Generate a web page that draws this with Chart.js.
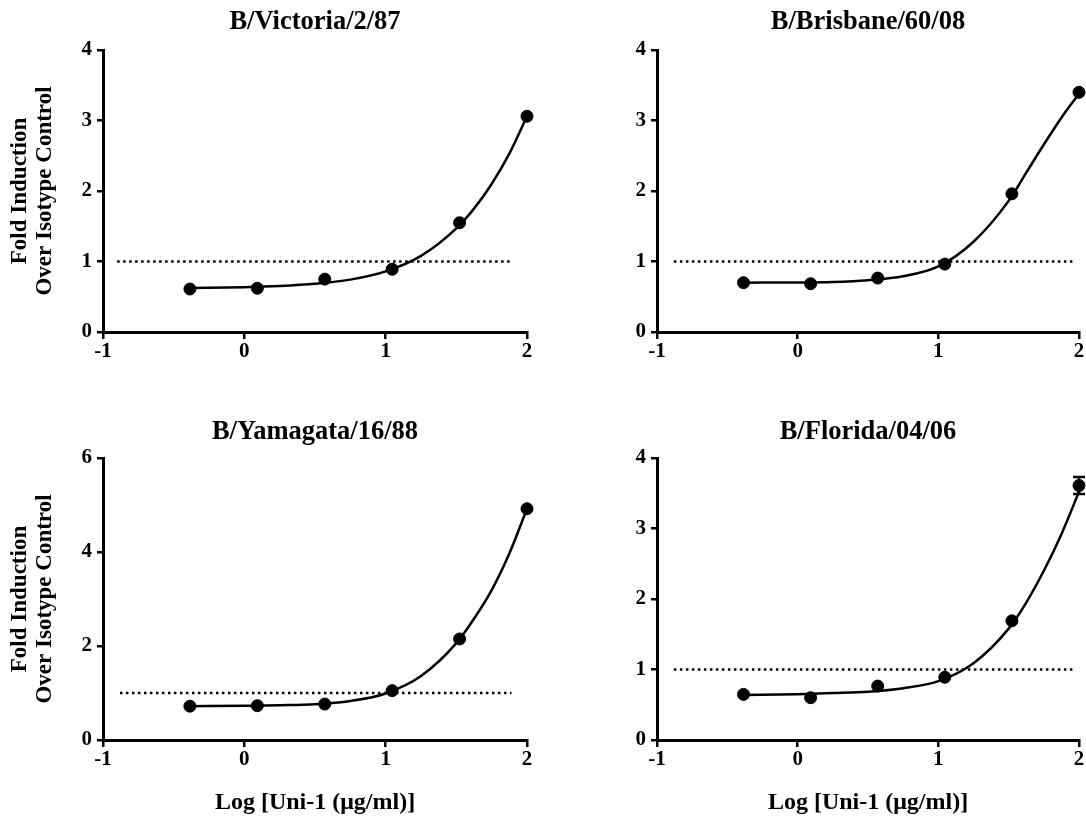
<!DOCTYPE html>
<html>
<head>
<meta charset="utf-8">
<script src="https://cdn.jsdelivr.net/npm/chart.js@4.4.1/dist/chart.umd.min.js"></script>
<style>
  body { margin: 0; background: #fff; }
  #wrap { position: relative; width: 1086px; height: 816px; overflow: hidden; background: #fff; }
  #wrap canvas { position: absolute; }
</style>
</head>
<body>
<div id="wrap">
  <canvas id="victoria" width="543" height="408" style="left:0;top:0"></canvas>
  <canvas id="brisbane" width="543" height="408" style="left:543px;top:0"></canvas>
  <canvas id="yamagata" width="543" height="408" style="left:0;top:408px"></canvas>
  <canvas id="florida" width="543" height="408" style="left:543px;top:408px"></canvas>
</div>
<script>
// log dose of Uni-1 (ug/ml), same for every strain
const doseLog = [-0.385, 0.092, 0.569, 1.046, 1.523, 2.0];
const fitLog = [-0.385, 0, 0.25, 0.5, 0.75, 1.0, 1.25, 1.5, 1.625, 1.75, 1.875, 2.0];

const victoriaMean = [0.61, 0.62, 0.75, 0.89, 1.55, 3.06];
const victoriaFit = [0.625, 0.636, 0.652, 0.683, 0.743, 0.86, 1.08, 1.47, 1.75, 2.10, 2.53, 3.06];

const brisbaneMean = [0.70, 0.685, 0.765, 0.963, 1.96, 3.40];
const brisbaneFit = [0.70, 0.703, 0.71, 0.735, 0.79, 0.93, 1.28, 1.86, 2.26, 2.66, 3.04, 3.38];

const yamagataMean = [0.72, 0.73, 0.765, 1.05, 2.15, 4.92];
const yamagataFit = [0.72, 0.73, 0.74, 0.76, 0.83, 0.99, 1.36, 2.06, 2.58, 3.19, 3.97, 4.92];

const floridaMean = [0.647, 0.60, 0.765, 0.89, 1.69, 3.61];
const floridaFit = [0.638, 0.65, 0.665, 0.685, 0.735, 0.835, 1.09, 1.58, 1.95, 2.40, 2.92, 3.52];
const floridaErr = [0, 0, 0, 0, 0, 0.12];

// dotted baseline at fold induction = 1 (start / end on the x axis)
const victoriaRef = [-0.9, 1.89];
const brisbaneRef = [-0.88, 1.96];
const yamagataRef = [-0.88, 1.89];
const floridaRef = [-0.88, 1.96];

const xTicks = [-1, 0, 1, 2];

const FONT = '"Liberation Serif", "Times New Roman", serif';

const panelTitle = {
    id: 'panelTitle',
    afterDraw(chart, args, opts) {
        const { ctx, chartArea } = chart;
        ctx.save();
        ctx.font = 'bold 26.5px ' + FONT;
        ctx.fillStyle = '#000';
        ctx.textAlign = 'center';
        ctx.textBaseline = 'middle';
        ctx.fillText(opts.text, (chartArea.left + chartArea.right) / 2, opts.y);
        ctx.restore();
    }
};

const errorBars = {
    id: 'errorBars',
    afterDatasetsDraw(chart, args, opts) {
        if (!opts.err) return;
        const { ctx, scales } = chart;
        ctx.save();
        ctx.strokeStyle = '#000';
        ctx.lineWidth = 2.5;
        opts.err.forEach((e, i) => {
            if (!e) return;
            const px = scales.x.getPixelForValue(opts.x[i]);
            const top = scales.y.getPixelForValue(opts.y[i] + e);
            const bot = scales.y.getPixelForValue(opts.y[i] - e);
            ctx.beginPath();
            ctx.moveTo(px, top); ctx.lineTo(px, bot);
            ctx.moveTo(px - 6, top); ctx.lineTo(px + 6, top);
            ctx.moveTo(px - 6, bot); ctx.lineTo(px + 6, bot);
            ctx.stroke();
        });
        ctx.restore();
    }
};

function toPoints(xs, ys) {
    return xs.map((x, i) => ({ x: x, y: ys[i] }));
}

function makePanel(id, cfg) {
    const ctx = document.getElementById(id).getContext('2d');
    return new Chart(ctx, {
        type: 'scatter',
        data: {
            datasets: [{
                data: toPoints(doseLog, cfg.mean),
                backgroundColor: '#000',
                borderColor: '#000',
                pointRadius: 6,
                pointHoverRadius: 6,
                clip: false
            }, {
                data: toPoints(fitLog, cfg.fit),
                showLine: true,
                borderColor: '#000',
                borderWidth: 2.5,
                pointRadius: 0,
                cubicInterpolationMode: 'monotone',
                clip: false
            }, {
                data: [{ x: cfg.ref[0], y: 1 }, { x: cfg.ref[1], y: 1 }],
                showLine: true,
                borderColor: '#000',
                borderWidth: 2.5,
                borderDash: [2.5, 3.5],
                pointRadius: 0,
                clip: false
            }]
        },
        options: {
            responsive: false,
            animation: false,
            events: [],
            layout: {
                padding: { top: 50, left: 0, right: cfg.padRight, bottom: 0 }
            },
            scales: {
                x: {
                    type: 'linear',
                    min: -1,
                    max: 2,
                    afterBuildTicks: (s) => { s.ticks = xTicks.map(v => ({ value: v })); },
                    afterFit: (s) => { s.height = 76; s.paddingLeft = 0; s.paddingRight = 0; },
                    grid: { drawOnChartArea: false, tickLength: 7, color: '#000', lineWidth: 2.5 },
                    border: { display: true, color: '#000', width: 3 },
                    ticks: {
                        color: '#000',
                        padding: 0,
                        maxRotation: 0,
                        font: { family: FONT, size: 21, weight: 'bold' }
                    },
                    title: {
                        display: cfg.xTitle,
                        text: 'Log [Uni-1 (\u03bcg/ml)]',
                        color: '#000',
                        padding: { top: 0, bottom: 0.5 },
                        font: { family: FONT, size: 24, weight: 'bold', lineHeight: 1.1 }
                    }
                },
                y: {
                    min: 0,
                    max: cfg.yMax,
                    afterFit: (s) => { s.width = cfg.yWidth; s.paddingTop = 0; s.paddingBottom = 0; },
                    grid: { drawOnChartArea: false, tickLength: 6, color: '#000', lineWidth: 2.5 },
                    border: { display: true, color: '#000', width: 3 },
                    ticks: {
                        stepSize: cfg.yStep,
                        color: '#000',
                        padding: 5,
                        font: { family: FONT, size: 21, weight: 'bold' }
                    },
                    title: {
                        display: cfg.yTitle,
                        text: ['Fold Induction', 'Over Isotype Control'],
                        color: '#000',
                        padding: { top: 7.5, bottom: 0 },
                        font: { family: FONT, size: 23, weight: 'bold', lineHeight: 1.1 }
                    }
                }
            },
            plugins: {
                legend: { display: false },
                tooltip: { enabled: false },
                panelTitle: { text: cfg.title, y: cfg.titleY },
                errorBars: { err: cfg.err, x: doseLog, y: cfg.mean }
            }
        },
        plugins: [panelTitle, errorBars]
    });
}

makePanel('victoria', {
    title: 'B/Victoria/2/87', titleY: 22, mean: victoriaMean, fit: victoriaFit, ref: victoriaRef,
    yMax: 4, yStep: 1, yWidth: 103, padRight: 16, yTitle: true, xTitle: false
});
makePanel('brisbane', {
    title: 'B/Brisbane/60/08', titleY: 22, mean: brisbaneMean, fit: brisbaneFit, ref: brisbaneRef,
    yMax: 4, yStep: 1, yWidth: 114, padRight: 5, yTitle: false, xTitle: false
});
makePanel('yamagata', {
    title: 'B/Yamagata/16/88', titleY: 24, mean: yamagataMean, fit: yamagataFit, ref: yamagataRef,
    yMax: 6, yStep: 2, yWidth: 103, padRight: 16, yTitle: true, xTitle: true
});
makePanel('florida', {
    title: 'B/Florida/04/06', titleY: 24, mean: floridaMean, fit: floridaFit, ref: floridaRef,
    yMax: 4, yStep: 1, yWidth: 114, padRight: 5, yTitle: false, xTitle: true, err: floridaErr
});
</script>
</body>
</html>
